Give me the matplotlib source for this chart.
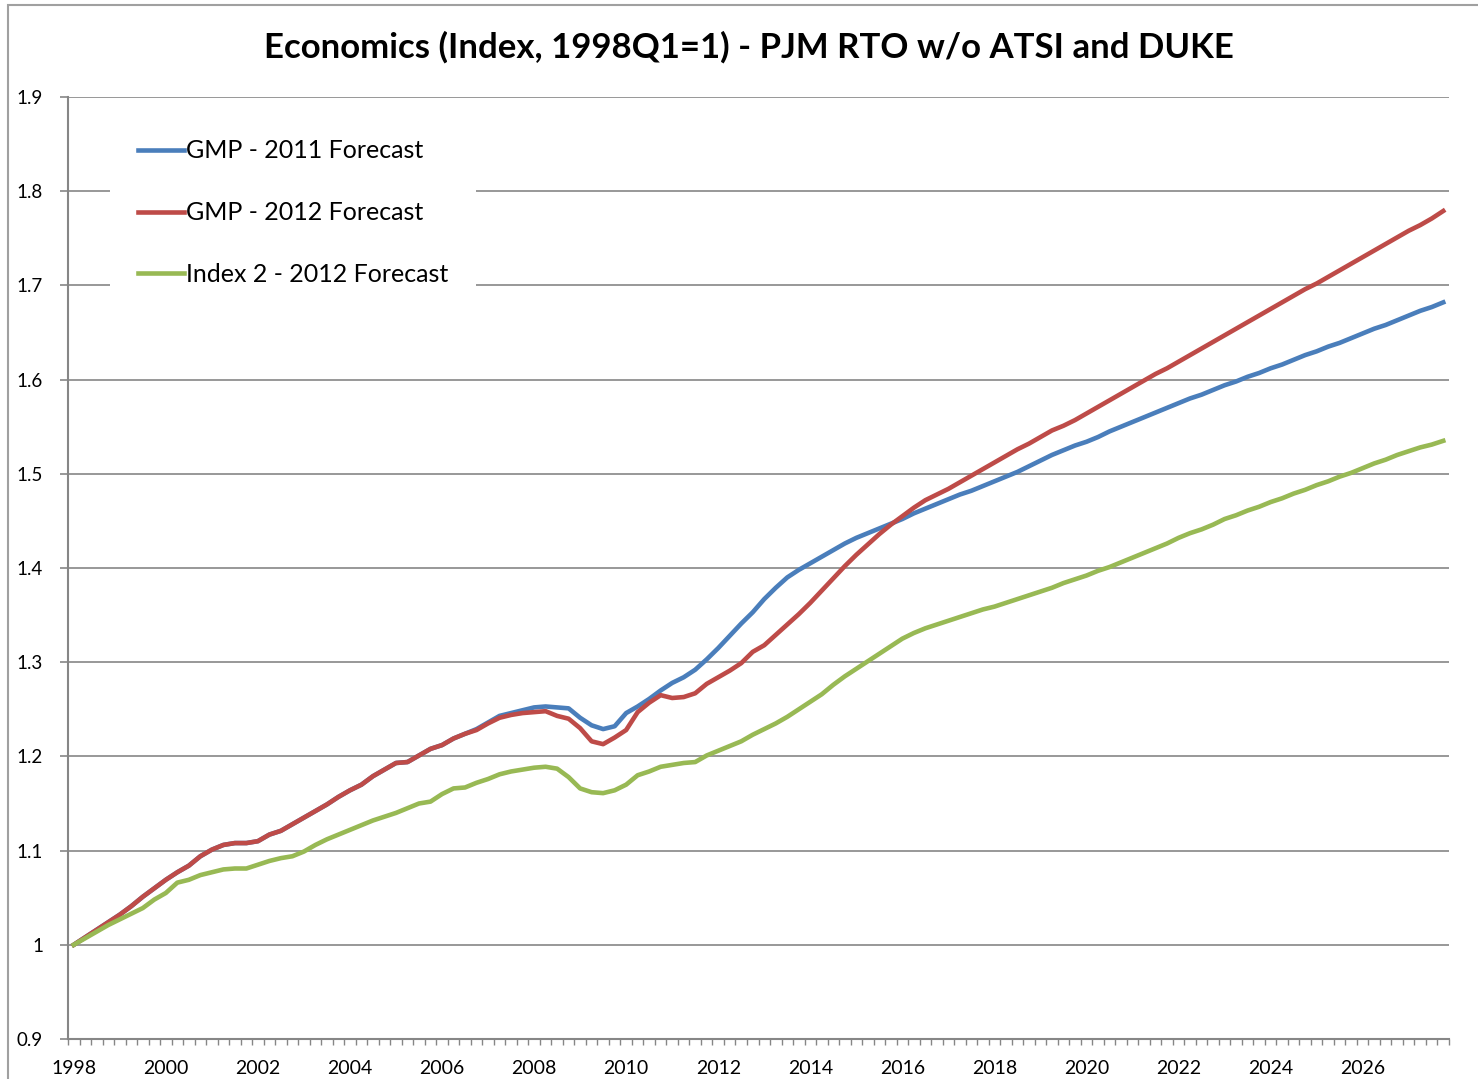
import numpy as np
import matplotlib.pyplot as plt
from matplotlib.patches import Rectangle

plt.rcParams['font.family'] = ['Lato', 'DejaVu Sans']

# quarterly index, 1998Q1 .. 2027Q4
years = list(range(1998, 2028))
year_labels = [str(y) for y in range(1998, 2028, 2)]

gmp_2011 = [
    1.000, 1.008, 1.016, 1.024,  # 1998
    1.032, 1.041, 1.051, 1.060,  # 1999
    1.069, 1.077, 1.084, 1.094,  # 2000
    1.101, 1.106, 1.108, 1.108,  # 2001
    1.110, 1.117, 1.121, 1.128,  # 2002
    1.135, 1.142, 1.149, 1.157,  # 2003
    1.164, 1.170, 1.179, 1.186,  # 2004
    1.193, 1.194, 1.201, 1.208,  # 2005
    1.212, 1.219, 1.224, 1.229,  # 2006
    1.236, 1.243, 1.246, 1.249,  # 2007
    1.252, 1.253, 1.252, 1.251,  # 2008
    1.241, 1.233, 1.229, 1.232,  # 2009
    1.246, 1.253, 1.261, 1.270,  # 2010
    1.278, 1.284, 1.292, 1.303,  # 2011
    1.315, 1.328, 1.341, 1.353,  # 2012
    1.367, 1.379, 1.390, 1.398,  # 2013
    1.405, 1.412, 1.419, 1.426,  # 2014
    1.432, 1.437, 1.442, 1.447,  # 2015
    1.452, 1.458, 1.463, 1.468,  # 2016
    1.473, 1.478, 1.482, 1.487,  # 2017
    1.492, 1.497, 1.502, 1.508,  # 2018
    1.514, 1.520, 1.525, 1.530,  # 2019
    1.534, 1.539, 1.545, 1.550,  # 2020
    1.555, 1.560, 1.565, 1.570,  # 2021
    1.575, 1.580, 1.584, 1.589,  # 2022
    1.594, 1.598, 1.603, 1.607,  # 2023
    1.612, 1.616, 1.621, 1.626,  # 2024
    1.630, 1.635, 1.639, 1.644,  # 2025
    1.649, 1.654, 1.658, 1.663,  # 2026
    1.668, 1.673, 1.677, 1.682,  # 2027
]

gmp_2012 = [
    1.000, 1.008, 1.016, 1.024,  # 1998
    1.032, 1.041, 1.051, 1.060,  # 1999
    1.069, 1.077, 1.084, 1.094,  # 2000
    1.101, 1.106, 1.108, 1.108,  # 2001
    1.110, 1.117, 1.121, 1.128,  # 2002
    1.135, 1.142, 1.149, 1.157,  # 2003
    1.164, 1.170, 1.179, 1.186,  # 2004
    1.193, 1.194, 1.201, 1.208,  # 2005
    1.212, 1.219, 1.224, 1.228,  # 2006
    1.235, 1.241, 1.244, 1.246,  # 2007
    1.247, 1.248, 1.243, 1.240,  # 2008
    1.230, 1.216, 1.213, 1.220,  # 2009
    1.228, 1.247, 1.257, 1.265,  # 2010
    1.262, 1.263, 1.267, 1.277,  # 2011
    1.284, 1.291, 1.299, 1.311,  # 2012
    1.318, 1.329, 1.340, 1.351,  # 2013
    1.363, 1.376, 1.389, 1.402,  # 2014
    1.414, 1.425, 1.436, 1.446,  # 2015
    1.455, 1.464, 1.472, 1.478,  # 2016
    1.484, 1.491, 1.498, 1.505,  # 2017
    1.512, 1.519, 1.526, 1.532,  # 2018
    1.539, 1.546, 1.551, 1.557,  # 2019
    1.564, 1.571, 1.578, 1.585,  # 2020
    1.592, 1.599, 1.606, 1.612,  # 2021
    1.619, 1.626, 1.633, 1.640,  # 2022
    1.647, 1.654, 1.661, 1.668,  # 2023
    1.675, 1.682, 1.689, 1.696,  # 2024
    1.702, 1.709, 1.716, 1.723,  # 2025
    1.730, 1.737, 1.744, 1.751,  # 2026
    1.758, 1.764, 1.771, 1.779,  # 2027
]

index2_2012 = [
    1.000, 1.007, 1.014, 1.021,  # 1998
    1.027, 1.033, 1.039, 1.048,  # 1999
    1.055, 1.066, 1.069, 1.074,  # 2000
    1.077, 1.080, 1.081, 1.081,  # 2001
    1.085, 1.089, 1.092, 1.094,  # 2002
    1.099, 1.106, 1.112, 1.117,  # 2003
    1.122, 1.127, 1.132, 1.136,  # 2004
    1.140, 1.145, 1.150, 1.152,  # 2005
    1.160, 1.166, 1.167, 1.172,  # 2006
    1.176, 1.181, 1.184, 1.186,  # 2007
    1.188, 1.189, 1.187, 1.178,  # 2008
    1.166, 1.162, 1.161, 1.164,  # 2009
    1.170, 1.180, 1.184, 1.189,  # 2010
    1.191, 1.193, 1.194, 1.201,  # 2011
    1.206, 1.211, 1.216, 1.223,  # 2012
    1.229, 1.235, 1.242, 1.250,  # 2013
    1.258, 1.266, 1.276, 1.285,  # 2014
    1.293, 1.301, 1.309, 1.317,  # 2015
    1.325, 1.331, 1.336, 1.340,  # 2016
    1.344, 1.348, 1.352, 1.356,  # 2017
    1.359, 1.363, 1.367, 1.371,  # 2018
    1.375, 1.379, 1.384, 1.388,  # 2019
    1.392, 1.397, 1.401, 1.406,  # 2020
    1.411, 1.416, 1.421, 1.426,  # 2021
    1.432, 1.437, 1.441, 1.446,  # 2022
    1.452, 1.456, 1.461, 1.465,  # 2023
    1.470, 1.474, 1.479, 1.483,  # 2024
    1.488, 1.492, 1.497, 1.501,  # 2025
    1.506, 1.511, 1.515, 1.520,  # 2026
    1.524, 1.528, 1.531, 1.535,  # 2027
]

y_ticks = [0.9, 1.0, 1.1, 1.2, 1.3, 1.4, 1.5, 1.6, 1.7, 1.8, 1.9]
y_labels = ['0.9', '1', '1.1', '1.2', '1.3', '1.4', '1.5', '1.6', '1.7', '1.8', '1.9']

n = len(gmp_2011)
x = np.arange(n)
grey = '#868686'

fig = plt.figure(figsize=(14.78, 10.79), dpi=100)
ax = fig.add_axes([68/1478, 1 - 1039/1079, (1449-68)/1478, (1039-97)/1079])

# outer chart border (cropped at right/bottom)
fig.patches.append(Rectangle((8/1478, -0.05), 1.1, 1 - 5/1079 + 0.05,
                             transform=fig.transFigure, fill=False,
                             edgecolor='#a0a0a0', lw=1.5))

ax.plot(x, gmp_2011, color='#4a7ebb', lw=3.3, label='GMP - 2011 Forecast', zorder=3)
ax.plot(x, gmp_2012, color='#be4b48', lw=3.3, label='GMP - 2012 Forecast', zorder=3)
ax.plot(x, index2_2012, color='#98b954', lw=3.3, label='Index 2 - 2012 Forecast', zorder=3)

ax.set_xlim(-0.5, n - 0.5)
ax.set_ylim(0.9, 1.9)

ax.set_yticks(y_ticks)
ax.set_yticklabels(y_labels)
ax.yaxis.grid(True, color=grey, lw=1.2)
ax.set_axisbelow(True)

ax.set_xticks(np.arange(0, n, 8))
ax.set_xticklabels(year_labels)
ax.set_xticks(np.arange(-0.5, n, 1), minor=True)
ax.tick_params(axis='x', which='major', length=0, pad=15, labelsize=14)
ax.tick_params(axis='x', which='minor', length=4, width=1, color=grey, direction='out')
ax.tick_params(axis='y', which='major', length=6, width=1.2, color=grey,
               direction='out', pad=12, labelsize=13.5)

for s in ['top', 'right']:
    ax.spines[s].set_visible(False)
for s in ['left', 'bottom']:
    ax.spines[s].set_color(grey)
    ax.spines[s].set_linewidth(1.5)

leg = ax.legend(loc='upper left', bbox_to_anchor=(110/1478, 1 - 112/1079),
                bbox_transform=fig.transFigure, frameon=True, fontsize=18,
                handlelength=1.85, handletextpad=0.1, labelspacing=1.55,
                borderpad=1.1, borderaxespad=0, fancybox=False)
leg.get_frame().set_facecolor('white')
leg.get_frame().set_edgecolor('none')
leg.get_frame().set_alpha(1)

fig.text(749/1478, 1 - 47/1079, 'Economics (Index, 1998Q1=1) - PJM RTO w/o ATSI and DUKE',
         ha='center', va='center', fontsize=25, fontweight='bold')

fig.savefig('out.png', dpi=100)
